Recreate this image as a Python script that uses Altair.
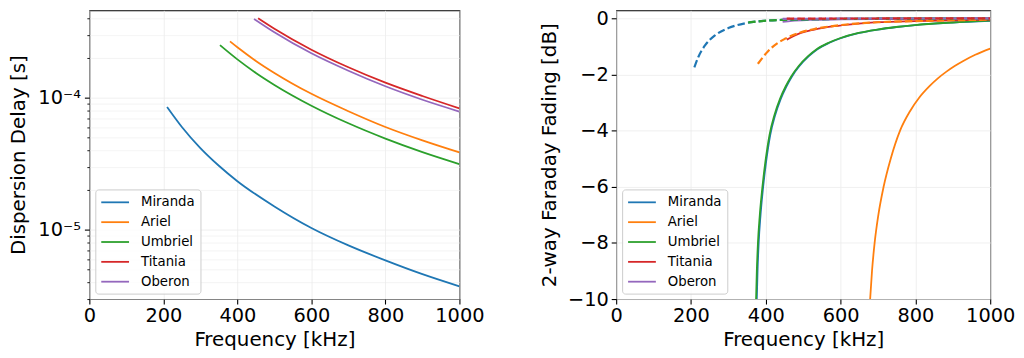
import altair as alt
import pandas as pd

FONT = "DejaVu Sans"
moons = ["Miranda", "Ariel", "Umbriel", "Titania", "Oberon"]
colors = ["#1f77b4", "#ff7f0e", "#2ca02c", "#d62728", "#9467bd"]

# ---- Left panel: dispersion delay [s] vs frequency [kHz]
miranda_f = [210, 250, 300, 350, 400, 500, 600, 700, 800, 900, 1000]
miranda_delay = [8.5e-5, 6.0e-5, 4.15e-5, 3.05e-5, 2.33e-5, 1.5e-5, 1.03e-5, 7.6e-6, 5.85e-6, 4.6e-6, 3.72e-6]
ariel_f = [380, 400, 450, 500, 600, 700, 800, 900, 1000]
ariel_delay = [2.67e-4, 2.41e-4, 1.9e-4, 1.54e-4, 1.07e-4, 7.9e-5, 6.0e-5, 4.75e-5, 3.85e-5]
umbriel_f = [353, 400, 450, 500, 600, 700, 800, 900, 1000]
umbriel_delay = [2.5e-4, 1.95e-4, 1.54e-4, 1.25e-4, 8.7e-5, 6.4e-5, 4.9e-5, 3.87e-5, 3.14e-5]
titania_f = [456, 500, 600, 700, 800, 900, 1000]
titania_delay = [4.0e-4, 3.33e-4, 2.31e-4, 1.7e-4, 1.3e-4, 1.03e-4, 8.3e-5]
oberon_f = [445, 500, 600, 700, 800, 900, 1000]
oberon_delay = [3.95e-4, 3.13e-4, 2.17e-4, 1.6e-4, 1.22e-4, 9.65e-5, 7.85e-5]

# ---- Right panel: 2-way Faraday fading [dB]
miranda_solid_f = [376, 378, 381, 386, 393, 401, 412, 425, 440, 455, 470, 490, 515, 538, 570, 600, 650, 700, 750, 800, 900, 1000]
miranda_solid = [-10, -9, -8, -7, -6, -5.1, -4.15, -3.45, -2.87, -2.43, -2.07, -1.7, -1.35, -1.1, -0.87, -0.71, -0.52, -0.4, -0.31, -0.24, -0.15, -0.09]
umbriel_solid_f = [374, 376, 379, 384, 391, 399, 410, 423, 438, 453, 468, 488, 513, 536, 568, 598, 648, 698, 748, 798, 898, 1000]
umbriel_solid = [-10, -9, -8, -7, -6, -5.1, -4.15, -3.45, -2.87, -2.43, -2.07, -1.7, -1.35, -1.1, -0.87, -0.71, -0.52, -0.4, -0.31, -0.24, -0.15, -0.085]
ariel_solid_f = [679, 684, 691, 701, 715, 734, 759, 786, 810, 839, 860, 883, 905, 928, 960, 1000]
ariel_solid = [-10, -9, -8, -7, -6, -5, -4, -3.3, -2.83, -2.4, -2.14, -1.9, -1.7, -1.52, -1.3, -1.08]
titania_solid_f = [456, 475, 494, 530, 583, 640, 700, 800, 900, 1000]
titania_solid = [-0.76, -0.63, -0.52, -0.4, -0.28, -0.2, -0.14, -0.1, -0.07, -0.05]
oberon_solid_f = [445, 470, 520, 600, 800, 1000]
oberon_solid = [-0.13, -0.09, -0.06, -0.04, -0.02, -0.015]

miranda_dash_f = [209, 220, 238, 264, 300, 344, 397, 450, 550, 700, 850, 1000]
miranda_dash = [-1.75, -1.37, -0.96, -0.61, -0.35, -0.18, -0.09, -0.055, -0.03, -0.015, -0.01, -0.007]
ariel_dash_f = [379, 406, 432, 450, 494, 530, 583, 640, 700, 800, 900, 1000]
ariel_dash = [-1.62, -1.17, -0.88, -0.74, -0.5, -0.38, -0.27, -0.19, -0.14, -0.1, -0.07, -0.05]
umbriel_dash_f = [353, 400, 450, 550, 700, 850, 1000]
umbriel_dash = [-0.15, -0.085, -0.055, -0.03, -0.015, -0.01, -0.007]
oberon_dash_f = [445, 600, 800, 1000]
oberon_dash = [-0.02, -0.012, -0.008, -0.005]
titania_dash_f = [456, 600, 800, 1000]
titania_dash = [-0.012, -0.008, -0.005, -0.004]

x_ticks = [0, 200, 400, 600, 800, 1000]
y_major = [1e-5, 1e-4]
y_minor = [3e-6, 4e-6, 5e-6, 6e-6, 7e-6, 8e-6, 9e-6,
           2e-5, 3e-5, 4e-5, 5e-5, 6e-5, 7e-5, 8e-5, 9e-5,
           2e-4, 3e-4, 4e-4]
fade_ticks = [-10, -8, -6, -4, -2, 0]


def rows(name, fs, vs, **extra):
    return [dict(moon=name, f=f, v=v, **extra) for f, v in zip(fs, vs)]


df_delay = pd.DataFrame(
    rows("Miranda", miranda_f, miranda_delay) + rows("Ariel", ariel_f, ariel_delay)
    + rows("Umbriel", umbriel_f, umbriel_delay) + rows("Titania", titania_f, titania_delay)
    + rows("Oberon", oberon_f, oberon_delay))

df_solid = pd.DataFrame(
    rows("Miranda", miranda_solid_f, miranda_solid, o=0) + rows("Ariel", ariel_solid_f, ariel_solid, o=1)
    + rows("Umbriel", umbriel_solid_f, umbriel_solid, o=2) + rows("Titania", titania_solid_f, titania_solid, o=3)
    + rows("Oberon", oberon_solid_f, oberon_solid, o=4))
df_dash = pd.DataFrame(
    rows("Miranda", miranda_dash_f, miranda_dash, o=0) + rows("Ariel", ariel_dash_f, ariel_dash, o=1)
    + rows("Umbriel", umbriel_dash_f, umbriel_dash, o=2) + rows("Oberon", oberon_dash_f, oberon_dash, o=3)
    + rows("Titania", titania_dash_f, titania_dash, o=4))

TICK = 19.5
TITLE = 20
GRID = "#ececec"
H = 291

color_scale = alt.Scale(domain=moons, range=colors)


def legend():
    return alt.Legend(title=None, orient="none", legendX=6, legendY=180.5,
                      symbolType="M-1,0H3", symbolSize=196, symbolStrokeWidth=1.8,
                      symbolFillColor="transparent",
                      labelFont=FONT, labelFontSize=13.4, labelColor="black", labelOffset=25,
                      padding=5, rowPadding=5, fillColor="rgba(255,255,255,0.8)",
                      strokeColor="#cccccc", cornerRadius=3)


def x_enc():
    return alt.X("f:Q", scale=alt.Scale(domain=[0, 1000], nice=False, zero=False),
                 axis=alt.Axis(values=x_ticks, title="Frequency [kHz]", format="d",
                               labelFontSize=TICK, titleFontSize=TITLE, labelFont=FONT, titleFont=FONT,
                               labelColor="black", titleColor="black", titleFontWeight="normal",
                               tickColor="black", tickSize=5, tickWidth=1.1, labelPadding=3,
                               titlePadding=4, domain=False, grid=True, gridColor=GRID, gridWidth=0.8,
                               labelFlush=False))


y_scale_log = alt.Scale(type="log", domain=[2.98e-6, 4.59e-4], nice=False)

left_minor = alt.Chart(df_delay).mark_line(opacity=0).encode(
    x=x_enc(),
    y=alt.Y("v:Q", scale=y_scale_log,
            axis=alt.Axis(values=y_minor, labels=False, title=None, orient="left", tickSize=2.5,
                          tickColor="black", tickWidth=0.9, domain=False, grid=True,
                          gridColor=GRID, gridWidth=0.6)),
    detail="moon:N",
)

left_lines = alt.Chart(df_delay).mark_line(strokeWidth=1.8, clip=True, interpolate="monotone").encode(
    x=x_enc(),
    y=alt.Y("v:Q", scale=y_scale_log,
            axis=alt.Axis(values=y_major, orient="left", title="Dispersion Delay [s]",
                          labelExpr="datum.value > 0.00005 ? '10⁻⁴' : '10⁻⁵'",
                          labelFontSize=TICK, titleFontSize=TITLE, labelFont=FONT, titleFont=FONT,
                          labelColor="black", titleColor="black", titleFontWeight="normal",
                          tickColor="black", tickSize=5, tickWidth=1.1, labelPadding=4,
                          titlePadding=9, domain=False, grid=True, gridColor=GRID, gridWidth=0.8)),
    color=alt.Color("moon:N", scale=color_scale, sort=moons, legend=legend()),
)

left = alt.layer(left_minor, left_lines).resolve_axis(y="independent").properties(width=373, height=H)

fade_scale = alt.Scale(domain=[-10, 0.283], nice=False, zero=False)


def y_fade():
    ax = alt.Axis(values=fade_ticks, title="2-way Faraday Fading [dB]", format="d",
                  labelFontSize=TICK, titleFontSize=TITLE, labelFont=FONT, titleFont=FONT,
                  labelColor="black", titleColor="black", titleFontWeight="normal",
                  tickColor="black", tickSize=5, tickWidth=1.1, labelPadding=3,
                  titlePadding=8, domain=False, grid=True, gridColor=GRID, gridWidth=0.8)
    return alt.Y("v:Q", scale=fade_scale, axis=ax)


right_solid = alt.Chart(df_solid).mark_line(strokeWidth=1.8, clip=True, interpolate="monotone").encode(
    x=x_enc(),
    y=y_fade(),
    color=alt.Color("moon:N", scale=color_scale, sort=moons, legend=legend()),
    order="o:Q",
)
right_dash = alt.Chart(df_dash).mark_line(strokeWidth=2.2, strokeDash=[7.5, 3.2], clip=True,
                                          interpolate="monotone").encode(
    x=x_enc(),
    y=y_fade(),
    color=alt.Color("moon:N", scale=color_scale, sort=moons, legend=None),
    detail="o:Q",
)

right = alt.layer(right_solid, right_dash).properties(width=377, height=H)

chart = (alt.hconcat(left, right, spacing=54)
         .resolve_scale(color="independent")
         .resolve_legend(color="independent")
         .properties(padding={"left": 0, "top": -2, "right": 0, "bottom": 0})
         .configure(font=FONT)
         .configure_view(stroke="black", strokeWidth=1.1))

chart.save("out.html", embed_options={"renderer": "svg", "actions": False})
